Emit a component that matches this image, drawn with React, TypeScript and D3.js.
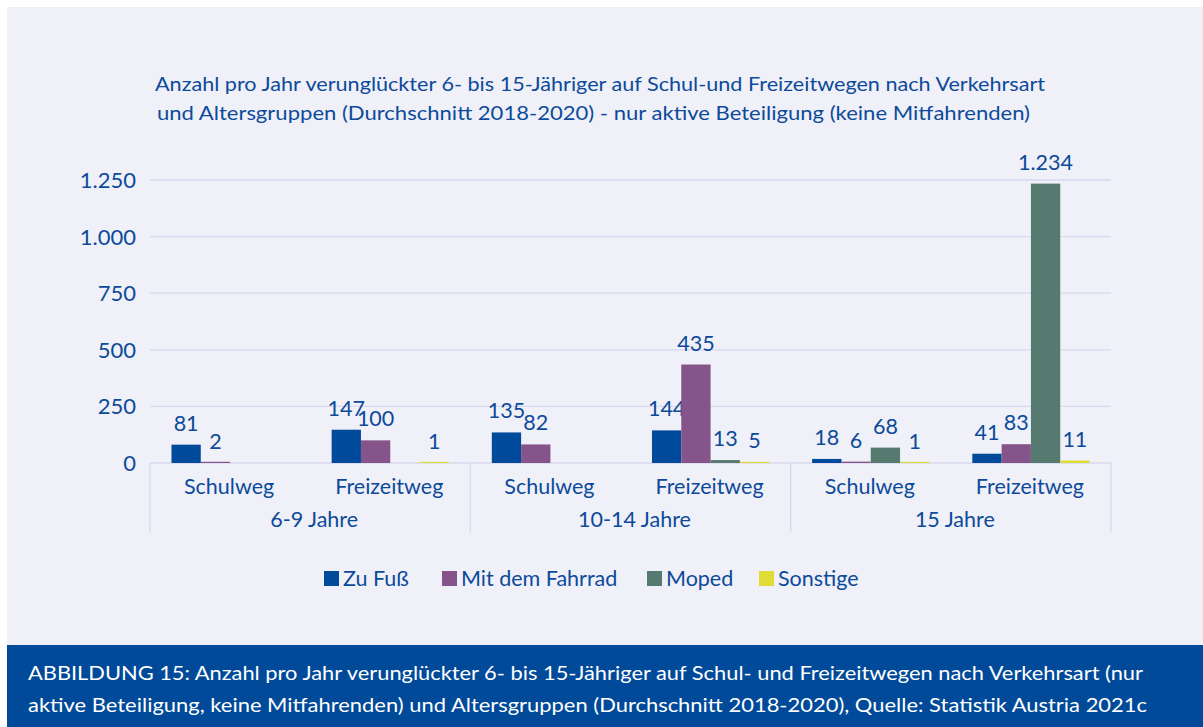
import React from "react";
import * as d3 from "d3";

const ageGroups = ["6-9 Jahre", "10-14 Jahre", "15 Jahre"];
const wayTypes = ["Schulweg", "Freizeitweg"];
const seriesNames = ["Zu Fuß", "Mit dem Fahrrad", "Moped", "Sonstige"];
const seriesColors = ["#004A9B", "#84548A", "#567A70", "#E0DC36"];
const zuFuss = [81, 147, 135, 144, 18, 41];
const fahrrad = [2, 100, 82, 435, 6, 83];
const moped: (number | null)[] = [null, null, null, 13, 68, 1234];
const sonstige: (number | null)[] = [null, 1, null, 5, 1, 11];
const yTicks = [0, 250, 500, 750, 1000, 1250];
const titleLines = [
  "Anzahl pro Jahr verunglückter 6- bis 15-Jähriger auf Schul-und Freizeitwegen nach Verkehrsart",
  "und Altersgruppen (Durchschnitt 2018-2020) - nur aktive Beteiligung (keine Mitfahrenden)",
];
const footerLines = [
  "ABBILDUNG 15: Anzahl pro Jahr verunglückter 6- bis 15-Jähriger auf Schul- und Freizeitwegen nach Verkehrsart (nur",
  "aktive Beteiligung, keine Mitfahrenden) und Altersgruppen (Durchschnitt 2018-2020), Quelle: Statistik Austria 2021c",
];

const seriesValues = [zuFuss, fahrrad, moped, sonstige];

const de = d3.formatLocale({
  decimal: ",",
  thousands: ".",
  grouping: [3],
  currency: ["", " €"],
});
const fmt = de.format(",d");

const TEXT = "#0D4A9A";
const GRID = "#D8D9EE";
const FONT = "Lato, 'Open Sans', sans-serif";

export default function App() {
  const W = 1203;
  const H = 727;
  const left = 150;
  const right = 1111;
  const y0 = 463;

  const categories = ageGroups.flatMap((g) => wayTypes.map((w) => `${g}|${w}`));
  const x0 = d3.scaleBand<string>().domain(categories).range([left, right]).padding(0);
  const x1 = d3
    .scaleBand<string>()
    .domain(seriesNames)
    .range([0, x0.bandwidth()])
    .paddingInner(0)
    .paddingOuter(0.733);
  const y = d3.scaleLinear().domain([0, 1250]).range([y0, 180]);

  const groupX = d3.scaleBand<string>().domain(ageGroups).range([left, right]).padding(0);

  const legendX = [324, 442, 647, 759];

  return (
    <svg
      width={W}
      height={H}
      style={{ position: "absolute", left: 0, top: 0, fontFamily: FONT }}
    >
      <rect x={0} y={0} width={W} height={H} fill="#FFFFFF" />
      <rect x={7} y={7} width={W - 7} height={645 - 7} fill="#EFF0F8" />
      <rect x={7} y={645} width={W - 7} height={H - 645} fill="#004A99" />

      {titleLines.map((t, i) => (
        <text
          key={i}
          x={i === 0 ? 155 : 157}
          y={i === 0 ? 91 : 120}
          fontSize={19}
          fill={TEXT}
          textLength={i === 0 ? 890 : 873}
          lengthAdjust="spacingAndGlyphs"
        >
          {t}
        </text>
      ))}

      {/* gridlines */}
      {yTicks.map((t) => (
        <g key={t}>
          <line x1={left} x2={right} y1={y(t)} y2={y(t)} stroke={GRID} strokeWidth={1.3} />
          <text x={136} y={y(t) + 8} textAnchor="end" fontSize={22} fill={TEXT}>
            {fmt(t)}
          </text>
        </g>
      ))}

      {/* group separators */}
      {[left, ...ageGroups.map((g) => (groupX(g) as number) + groupX.bandwidth())].map((xv, i) => (
        <line key={i} x1={xv} x2={xv} y1={y0} y2={532} stroke={GRID} strokeWidth={1.3} />
      ))}

      {/* bars */}
      {categories.map((c, ci) =>
        seriesNames.map((s, si) => {
          const v = seriesValues[si][ci];
          if (v == null) return null;
          const bx = (x0(c) as number) + (x1(s) as number);
          const h = Math.max(y0 - y(v), 1.2);
          return (
            <g key={`${c}-${s}`}>
              <rect x={bx} y={y0 - h} width={x1.bandwidth()} height={h} fill={seriesColors[si]} />
              <text
                x={bx + x1.bandwidth() / 2}
                y={y(v) - 14}
                textAnchor="middle"
                fontSize={21.5}
                fill={TEXT}
              >
                {fmt(v)}
              </text>
            </g>
          );
        })
      )}

      {/* category labels */}
      {categories.map((c) => (
        <text
          key={c}
          x={(x0(c) as number) + x0.bandwidth() / 2 - 1}
          y={494}
          textAnchor="middle"
          fontSize={21.5}
          fill={TEXT}
        >
          {c.split("|")[1]}
        </text>
      ))}
      {ageGroups.map((g) => (
        <text
          key={g}
          x={(groupX(g) as number) + groupX.bandwidth() / 2 + 4}
          y={527}
          textAnchor="middle"
          fontSize={21.5}
          fill={TEXT}
        >
          {g}
        </text>
      ))}

      {/* legend */}
      {seriesNames.map((s, i) => (
        <g key={s}>
          <rect x={legendX[i]} y={571} width={15} height={15} fill={seriesColors[i]} />
          <text x={legendX[i] + 19} y={586} fontSize={21.5} fill={TEXT}>
            {s}
          </text>
        </g>
      ))}

      {/* footer */}
      {footerLines.map((t, i) => (
        <text
          key={i}
          x={28}
          y={i === 0 ? 680 : 712}
          fontSize={20}
          fill="#FFFFFF"
          textLength={i === 0 ? 1115 : 1119}
          lengthAdjust="spacingAndGlyphs"
        >
          {t}
        </text>
      ))}
    </svg>
  );
}
